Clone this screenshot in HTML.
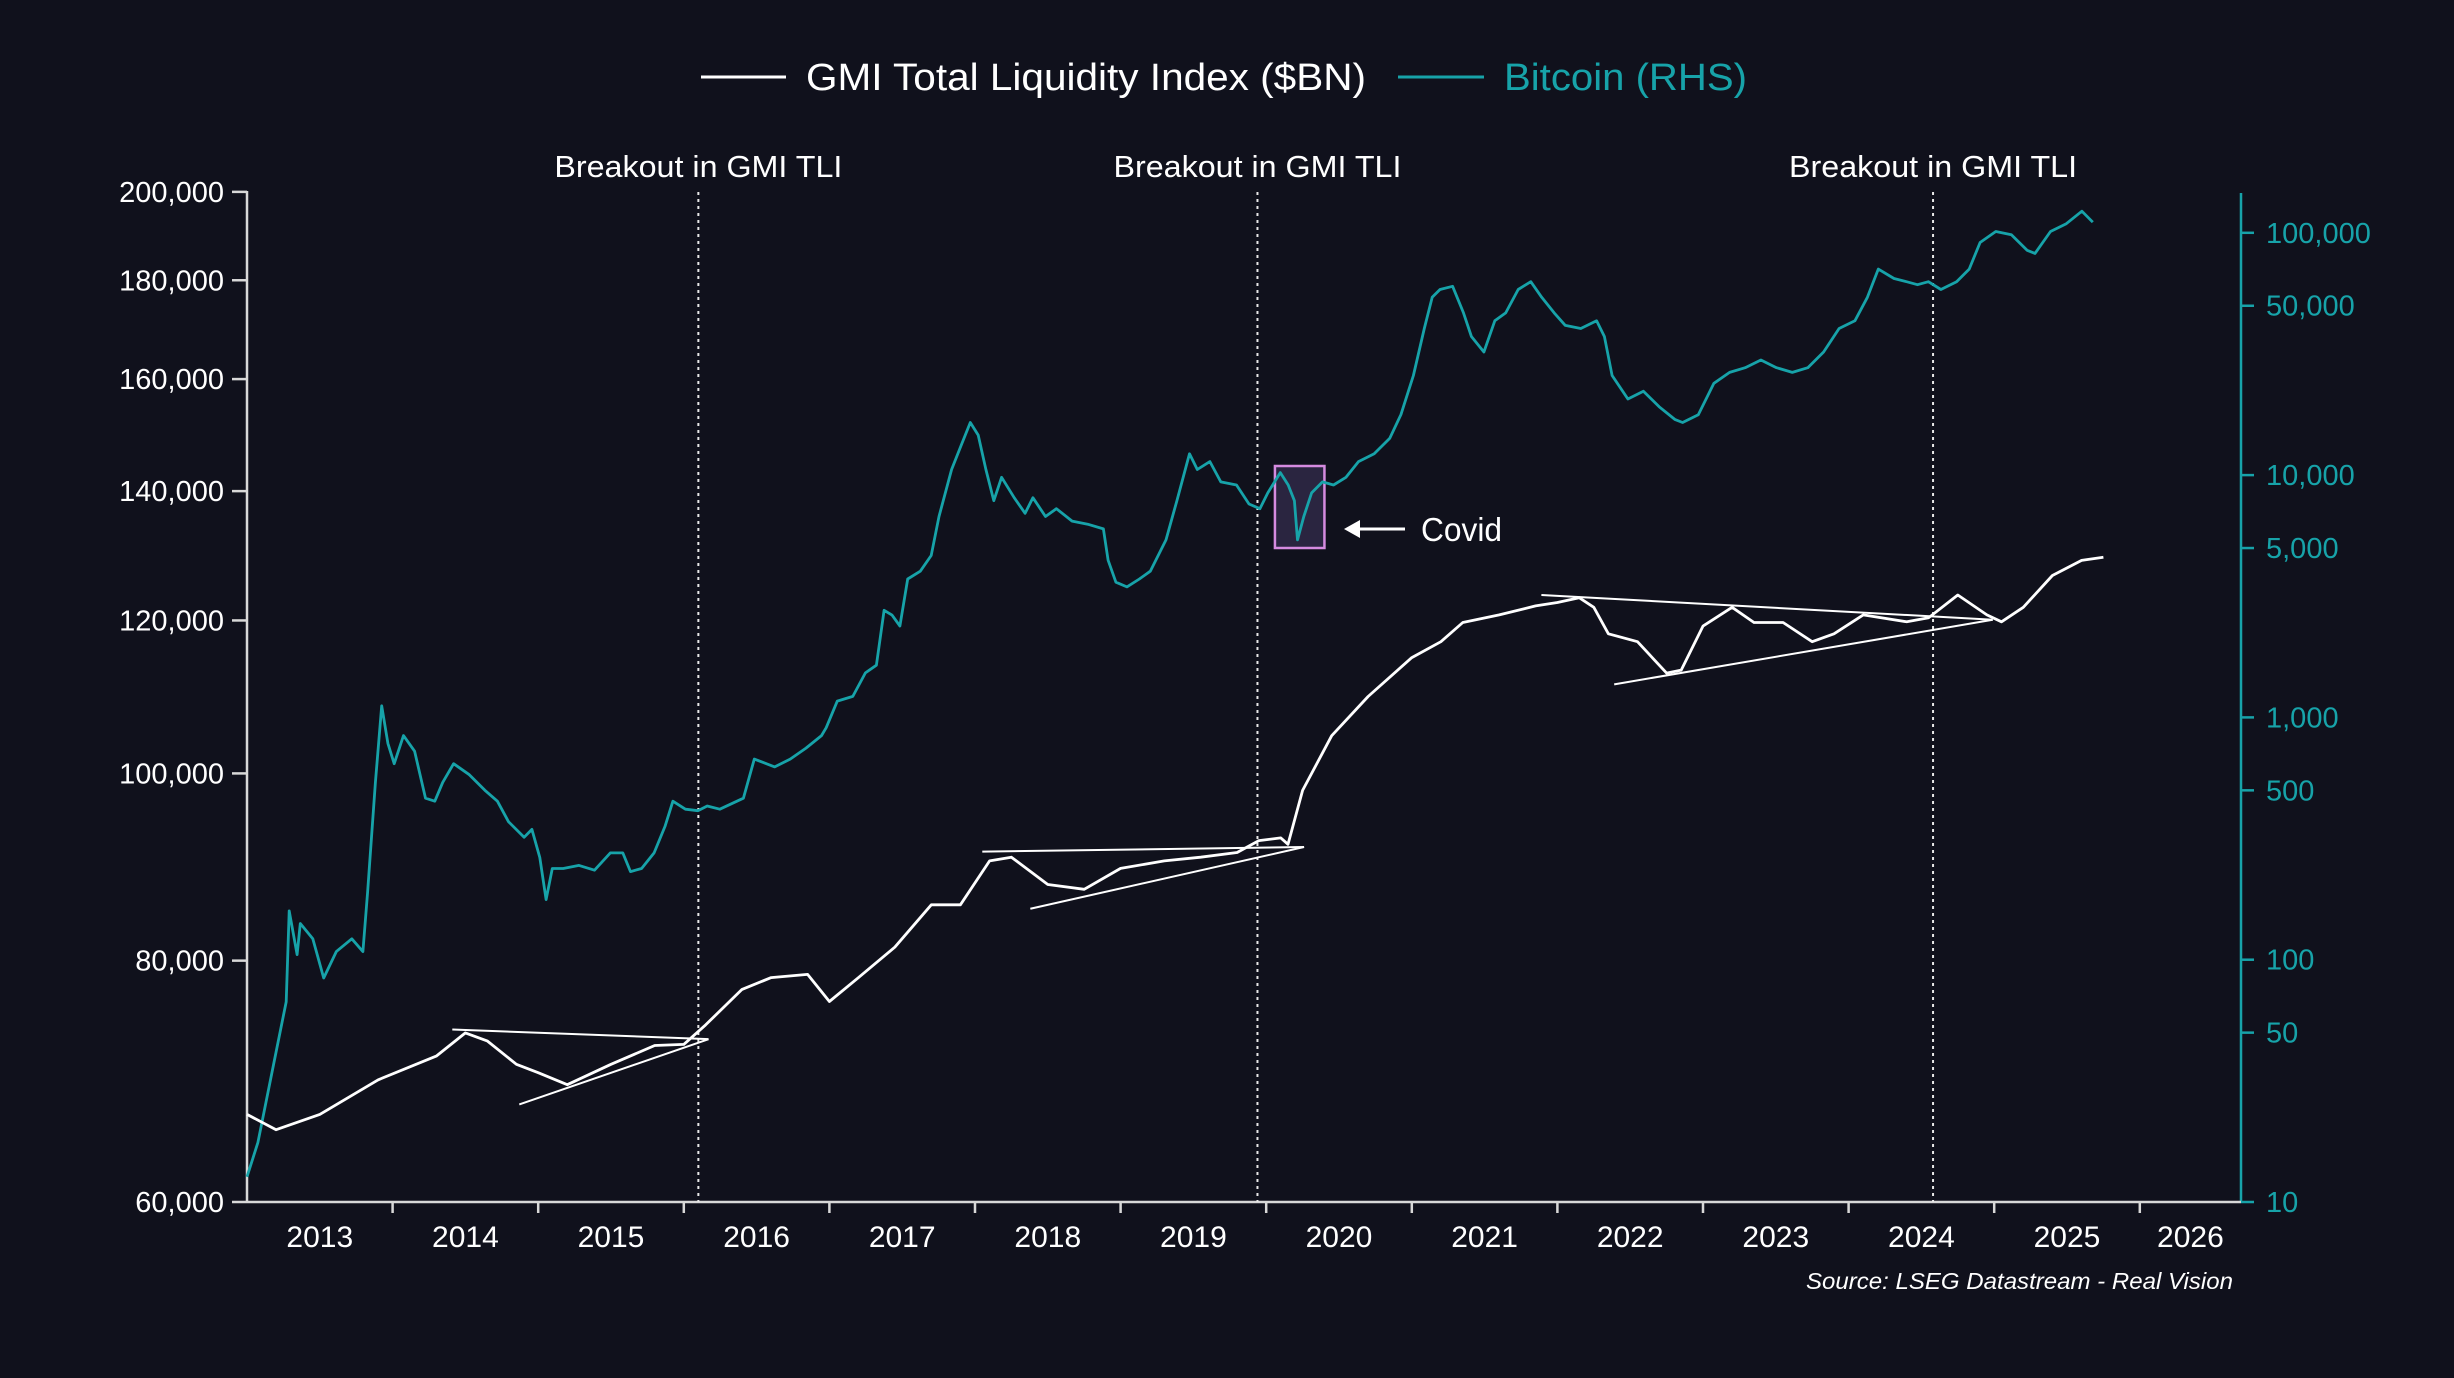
<!DOCTYPE html>
<html><head><meta charset="utf-8">
<style>
html,body{margin:0;padding:0;background:#10111c;}
svg{display:block;}
text{font-family:"Liberation Sans Narrow","Liberation Sans",sans-serif;}
</style></head>
<body>
<svg id="chart" width="2454" height="1378" viewBox="0 0 2454 1378" xmlns="http://www.w3.org/2000/svg">
<rect width="2454" height="1378" fill="#10111c"/>
<g id="legend">
  <line x1="701" y1="77" x2="786" y2="77" stroke="#ffffff" stroke-width="3"/>
  <text x="806" y="90" font-size="38" fill="#ffffff" textLength="560" lengthAdjust="spacingAndGlyphs">GMI Total Liquidity Index ($BN)</text>
  <line x1="1398" y1="77" x2="1484" y2="77" stroke="#17a3a9" stroke-width="3"/>
  <text x="1504" y="90" font-size="38" fill="#17a3a9" textLength="243" lengthAdjust="spacingAndGlyphs">Bitcoin (RHS)</text>
</g>
<g id="axes"></g>
<g id="annots"></g>
<g id="series"></g>
<text x="2233" y="1289" font-size="23" font-style="italic" fill="#ffffff" text-anchor="end" textLength="427" lengthAdjust="spacingAndGlyphs">Source: LSEG Datastream - Real Vision</text>
</svg>
<script>
// ---- data ----
const gmiYears = [2013.0,2013.2,2013.5,2013.9,2014.3,2014.5,2014.65,2014.85,2015.0,2015.2,2015.5,2015.8,2016.0,2016.15,2016.4,2016.6,2016.85,2017.0,2017.2,2017.45,2017.7,2017.9,2018.1,2018.25,2018.5,2018.75,2019.0,2019.3,2019.55,2019.8,2019.95,2020.1,2020.15,2020.25,2020.45,2020.7,2021.0,2021.2,2021.35,2021.6,2021.85,2022.0,2022.15,2022.25,2022.35,2022.55,2022.75,2022.85,2023.0,2023.2,2023.35,2023.55,2023.75,2023.9,2024.1,2024.4,2024.55,2024.75,2024.95,2025.05,2025.2,2025.4,2025.6,2025.75];
const gmiValues = [66.6,65.4,66.6,69.4,71.4,73.4,72.7,70.7,70.0,69.0,70.7,72.3,72.4,74.1,77.3,78.4,78.7,76.2,78.4,81.3,85.5,85.5,90.1,90.5,87.6,87.1,89.3,90.1,90.5,91.0,92.3,92.6,91.9,98.0,104.6,109.6,114.8,117.0,119.7,120.8,122.1,122.6,123.3,121.9,118.1,117.0,112.7,113.1,119.2,121.9,119.7,119.7,117.0,118.1,120.8,119.8,120.4,123.7,120.8,119.8,121.9,126.6,128.9,129.4];
const btcYears = [2013.0,2013.075,2013.183,2013.269,2013.29,2013.344,2013.366,2013.452,2013.527,2013.613,2013.72,2013.796,2013.828,2013.882,2013.925,2013.968,2014.011,2014.075,2014.151,2014.226,2014.29,2014.344,2014.419,2014.527,2014.634,2014.72,2014.796,2014.903,2014.957,2015.011,2015.054,2015.097,2015.172,2015.28,2015.387,2015.495,2015.581,2015.634,2015.71,2015.796,2015.871,2015.925,2016.011,2016.097,2016.161,2016.247,2016.409,2016.484,2016.624,2016.731,2016.839,2016.946,2016.978,2017.054,2017.161,2017.247,2017.323,2017.376,2017.43,2017.484,2017.538,2017.624,2017.699,2017.753,2017.839,2017.903,2017.968,2018.022,2018.075,2018.129,2018.183,2018.269,2018.344,2018.398,2018.484,2018.559,2018.667,2018.774,2018.882,2018.914,2018.968,2019.043,2019.129,2019.204,2019.312,2019.387,2019.473,2019.527,2019.613,2019.688,2019.796,2019.882,2019.957,2020.011,2020.097,2020.151,2020.194,2020.215,2020.258,2020.312,2020.387,2020.462,2020.548,2020.634,2020.742,2020.849,2020.925,2021.011,2021.086,2021.14,2021.194,2021.28,2021.355,2021.409,2021.495,2021.57,2021.645,2021.731,2021.817,2021.892,2021.978,2022.054,2022.161,2022.269,2022.323,2022.376,2022.484,2022.591,2022.699,2022.806,2022.86,2022.968,2023.075,2023.183,2023.29,2023.398,2023.505,2023.613,2023.72,2023.828,2023.935,2024.043,2024.129,2024.204,2024.312,2024.398,2024.473,2024.548,2024.634,2024.742,2024.828,2024.903,2025.011,2025.118,2025.226,2025.28,2025.387,2025.495,2025.602,2025.677];
const btcValues = [12.7,17.6,37,67,159,105,141,122,84,108,122,108,190,539,1117,781,644,841,725,464,451,539,644,580,500,451,371,320,345,264,177,238,238,245,234,276,276,231,238,276,355,451,418,412,431,418,464,673,625,673,747,841,907,1167,1221,1526,1643,2767,2644,2384,3724,4011,4656,6750,10550,13190,16480,14630,10550,7840,9790,8070,6956,8070,6750,7270,6457,6270,5996,4453,3615,3457,3724,4011,5400,7840,12240,10550,11370,9370,9100,7600,7270,8440,10240,9100,7840,5400,6750,8440,9370,9100,9790,11370,12240,14200,17750,25760,40270,54200,58350,60130,46700,37340,32200,43350,46700,58350,62850,54200,46700,41480,40270,43350,37340,25760,20600,22200,19140,16980,16480,17750,23920,26540,27740,29870,27740,26540,27740,32200,40270,43350,54200,70820,64770,62850,61050,62850,58350,62850,70820,91200,101200,98200,84700,82200,101200,109000,122800,110600];
const leftTicks = [60000,80000,100000,120000,140000,160000,180000,200000];
const leftTickLabels = ["60,000","80,000","100,000","120,000","140,000","160,000","180,000","200,000"];
const rightTicks = [10,50,100,500,1000,5000,10000,50000,100000];
const rightTickLabels = ["10","50","100","500","1,000","5,000","10,000","50,000","100,000"];
const yearLabels = ["2013","2014","2015","2016","2017","2018","2019","2020","2021","2022","2023","2024","2025","2026"];
const breakoutYears = [2016.1,2019.94,2024.58];
const tri1Years = [2014.41,2016.17,2014.87]; const tri1Values = [73.7,72.85,67.4];
const tri2Years = [2018.05,2020.26,2018.38]; const tri2Values = [91.1,91.6,85.1];
const tri3Years = [2021.89,2024.99,2022.39]; const tri3Values = [123.7,120.1,111.2];
const covidYears = [2020.06,2020.40];

// ---- scales ----
const X0=247, X1=2241, YB=1202, YT=191;
const yearPx = 145.6;
function xs(yr){ return X0 + (yr-2013)*yearPx; }
function yl(v){ return YB - 839*Math.log(v/60000); }
function yr(v){ return YB - 242.3*Math.log10(v/10); }
const NS="http://www.w3.org/2000/svg";
function mk(tag, attrs, parent){ const e=document.createElementNS(NS,tag); for(const k in attrs) e.setAttribute(k,attrs[k]); parent.appendChild(e); return e; }
const axes=document.getElementById('axes'), annots=document.getElementById('annots'), series=document.getElementById('series');

let e = mk('line',{x1:X0,y1:YT,x2:X0,y2:YB,stroke:'#d8d8d8','stroke-width':2.5},axes);


leftTicks.forEach((v,i)=>{
  const y=yl(v);
  const t=mk('line',{x1:232,y1:y,x2:X0,y2:y,stroke:'#d8d8d8','stroke-width':2.5},axes);
  
  
  const l=mk('text',{x:224,y:y+10,'font-size':29,fill:'#ffffff','text-anchor':'end'},axes);
  l.textContent=leftTickLabels[i];
  
  
});
e = mk('line',{x1:X1,y1:193,x2:X1,y2:YB,stroke:'#17a3a9','stroke-width':2.5},axes);


rightTicks.forEach((v,i)=>{
  const y=yr(v);
  const t=mk('line',{x1:X1,y1:y,x2:2254,y2:y,stroke:'#17a3a9','stroke-width':2.5},axes);
  
  
  const l=mk('text',{x:2266,y:y+10,'font-size':29,fill:'#17a3a9'},axes);
  l.textContent=rightTickLabels[i];
  
  
});
e = mk('line',{x1:X0,y1:YB,x2:X1,y2:YB,stroke:'#d8d8d8','stroke-width':2.5},axes);


yearLabels.forEach((lab,i)=>{
  const yrv=2013+i;
  if(i>0){
    const t=mk('line',{x1:xs(yrv),y1:YB,x2:xs(yrv),y2:1213,stroke:'#d8d8d8','stroke-width':2.5},axes);
    
    
  }
  const cx = Math.min(xs(yrv+0.5), (xs(yrv)+X1)/2);
  const l=mk('text',{x:cx,y:1247,'font-size':30,fill:'#ffffff','text-anchor':'middle'},axes);
  l.textContent=lab;
  
  
});
breakoutYears.forEach(b=>{
  const x=xs(b);
  const ln=mk('line',{x1:x,y1:192,x2:x,y2:YB,stroke:'#e8e8e8','stroke-width':2,'stroke-dasharray':'3 4'},annots);
  
  
  const t=mk('text',{x:x,y:177,'font-size':31,fill:'#ffffff','text-anchor':'middle',textLength:288,lengthAdjust:'spacingAndGlyphs'},annots);
  t.textContent='Breakout in GMI TLI';
  
  
});
const cb=mk('rect',{x:xs(covidYears[0]),y:466,width:xs(covidYears[1])-xs(covidYears[0]),height:82,fill:'#2a2540',stroke:'#d58be0','stroke-width':2.5},annots);


const ar=mk('line',{x1:1405,y1:529,x2:1356,y2:529,stroke:'#ffffff','stroke-width':3},annots);


const ah=mk('polygon',{points:'1344,529 1360,520 1360,538',fill:'#ffffff'},annots);


const ct=mk('text',{x:1421,y:541,'font-size':33,fill:'#ffffff',textLength:81,lengthAdjust:'spacingAndGlyphs'},annots);
ct.textContent='Covid';


[[tri1Years,tri1Values],[tri2Years,tri2Values],[tri3Years,tri3Values]].forEach(([ys,vs])=>{
  [[0,1],[2,1]].forEach(([a,b])=>{
    const l=mk('line',{x1:xs(ys[a]),y1:yl(vs[a]*1000),x2:xs(ys[b]),y2:yl(vs[b]*1000),stroke:'#ffffff','stroke-width':2},annots);
    
    
  });
});
function path(xsArr, vals, fy){ return xsArr.map((t,i)=>(i?'L':'M')+xs(t).toFixed(1)+','+fy(vals[i]).toFixed(1)).join(' '); }
const bp=mk('path',{d:path(btcYears,btcValues,yr),fill:'none',stroke:'#17a3a9','stroke-width':2.8,'stroke-linejoin':'round'},series);


const gp=mk('path',{d:path(gmiYears,gmiValues,v=>yl(v*1000)),fill:'none',stroke:'#ffffff','stroke-width':2.8,'stroke-linejoin':'round'},series);


</script>
</body></html>
